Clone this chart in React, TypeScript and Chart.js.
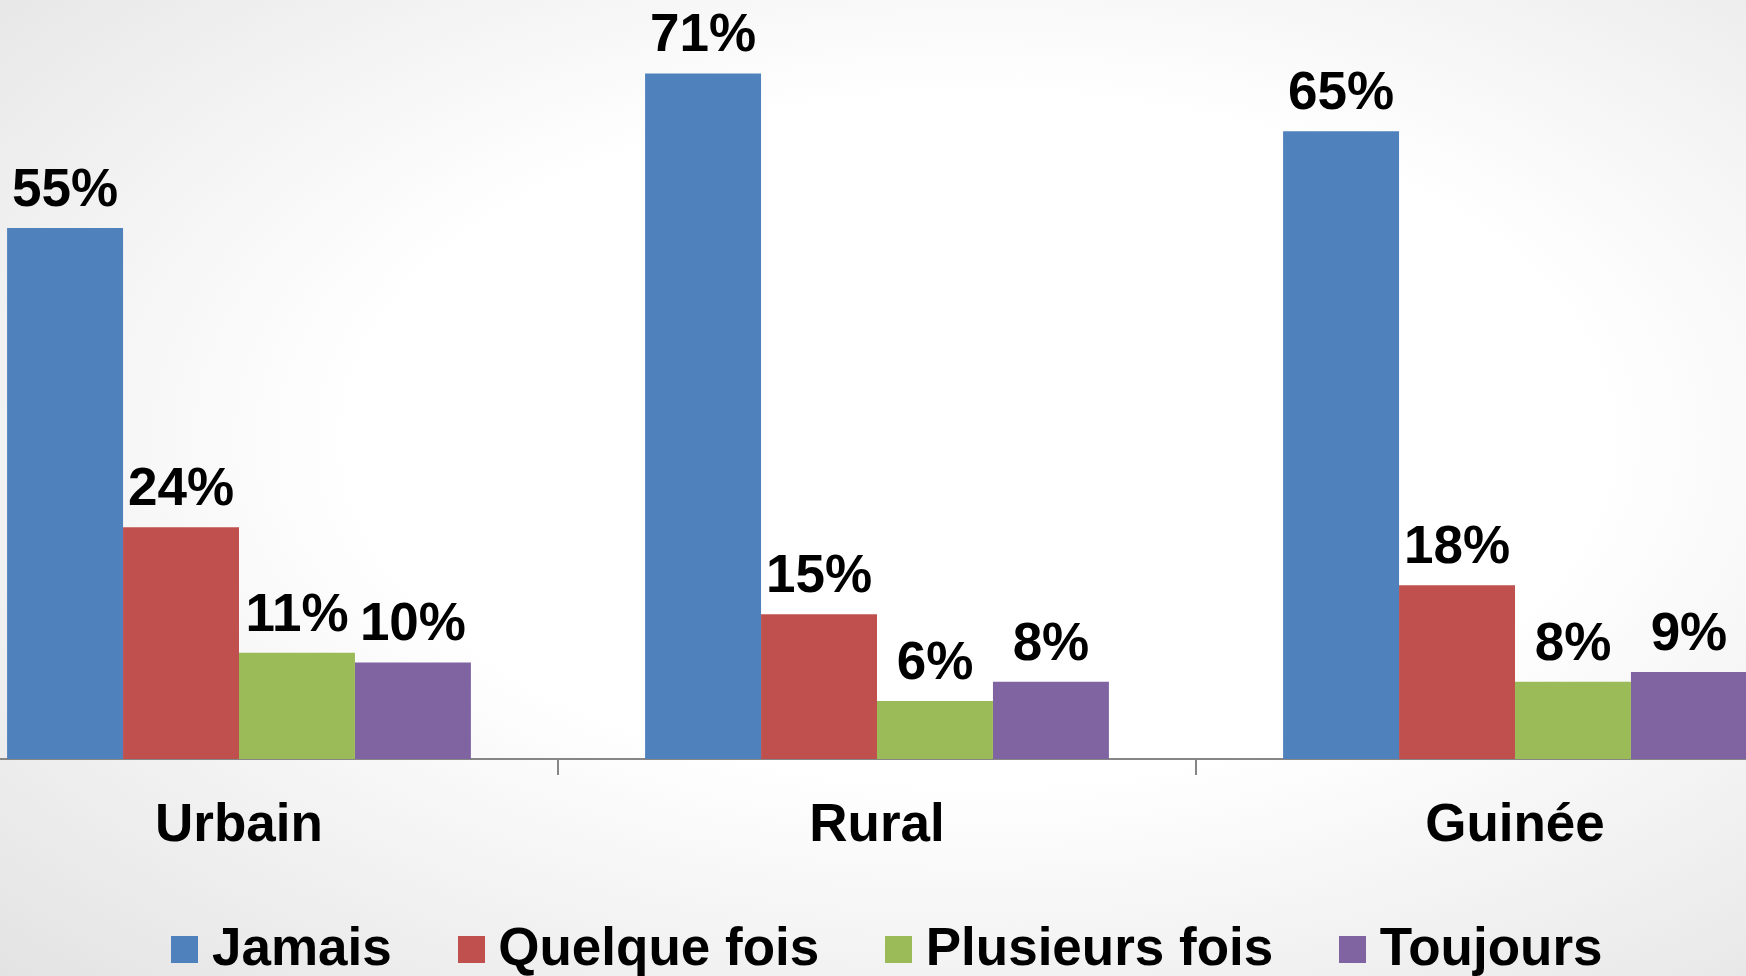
import { useEffect, useRef } from "react";
import { Chart, registerables } from "chart.js";

Chart.register(...registerables);

// ---- Data ----
const categories = ["Urbain", "Rural", "Guinée"];
const seriesNames = ["Jamais", "Quelque fois", "Plusieurs fois", "Toujours"];
const jamais = [55, 71, 65];
const quelqueFois = [24, 15, 18];
const plusieursFois = [11, 6, 8];
const toujours = [10, 8, 9];
const seriesColors = ["#4F81BD", "#C0504D", "#9BBB59", "#8064A2"];
const yMin = 0;
const yMax = 78.6;

const FONT = '"Liberation Sans", Arial, Helvetica, sans-serif';

function makeSwatch(color: string): HTMLCanvasElement {
  const c = document.createElement("canvas");
  c.width = 27;
  c.height = 35;
  const ctx = c.getContext("2d")!;
  ctx.fillStyle = color;
  ctx.fillRect(0, 3, 27, 27);
  return c;
}

const valueLabels = {
  id: "valueLabels",
  afterDatasetsDraw(chart: any) {
    const ctx = chart.ctx;
    ctx.save();
    ctx.font = `bold 53px ${FONT}`;
    ctx.fillStyle = "#000";
    ctx.textAlign = "center";
    ctx.textBaseline = "alphabetic";
    chart.data.datasets.forEach((ds: any, di: number) => {
      const meta = chart.getDatasetMeta(di);
      meta.data.forEach((el: any, i: number) => {
        ctx.fillText(`${ds.data[i]}%`, el.x, el.y - 22);
      });
    });
    ctx.restore();
  },
};

export default function App() {
  const ref = useRef<HTMLCanvasElement | null>(null);

  useEffect(() => {
    if (!ref.current) return;
    const values = [jamais, quelqueFois, plusieursFois, toujours];
    const swatches = seriesColors.map(makeSwatch);
    const chart = new Chart(ref.current, {
      type: "bar",
      data: {
        labels: categories,
        datasets: seriesNames.map((name, i) => ({
          label: name,
          data: values[i],
          backgroundColor: seriesColors[i],
          borderWidth: 0,
          categoryPercentage: 0.727,
          barPercentage: 1.0,
        })),
      },
      options: {
        animation: false,
        responsive: false,
        devicePixelRatio: 1,
        layout: { padding: 0 },
        plugins: {
          tooltip: { enabled: false },
          title: { display: false },
          legend: {
            display: true,
            position: "bottom",
            align: "center",
            labels: {
              usePointStyle: true,
              boxWidth: 1,
              boxHeight: 1,
              padding: 79,
              color: "#000",
              font: { family: FONT, size: 53, weight: "bold" },
              generateLabels: (ch: any) =>
                ch.data.datasets.map((ds: any, i: number) => ({
                  text: ds.label,
                  fillStyle: seriesColors[i],
                  strokeStyle: seriesColors[i],
                  lineWidth: 0,
                  pointStyle: swatches[i],
                  hidden: false,
                  datasetIndex: i,
                  fontColor: "#000",
                })),
            },
          },
        },
        scales: {
          x: {
            offset: true,
            grid: {
              display: true,
              offset: true,
              drawOnChartArea: false,
              drawTicks: true,
              tickLength: 16,
              color: "#868686",
              lineWidth: 2,
            },
            border: { display: true, color: "#868686", width: 2 },
            ticks: {
              color: "#000",
              font: { family: FONT, size: 53, weight: "bold" },
              padding: 20,
              maxRotation: 0,
              minRotation: 0,
              autoSkip: false,
            },
            afterFit: (s: any) => {
              s.height = 86;
            },
          },
          y: {
            position: "right",
            min: yMin,
            max: yMax,
            display: true,
            grid: { display: false },
            border: { display: false },
            ticks: { display: false },
            afterFit: (s: any) => {
              s.width = 33;
            },
          },
        },
      },
      plugins: [valueLabels],
    } as any);
    return () => chart.destroy();
  }, []);

  return (
    <div
      style={{
        position: "fixed",
        left: 0,
        top: 0,
        width: 1746,
        height: 976,
        overflow: "hidden",
        background:
          "radial-gradient(ellipse at 56% 45%, #ffffff 45%, #e3e3e3 100%)",
      }}
    >
      <canvas
        ref={ref}
        width={1947}
        height={987}
        style={{ position: "absolute", left: -80, top: 0, width: 1947, height: 987 }}
      />
    </div>
  );
}
